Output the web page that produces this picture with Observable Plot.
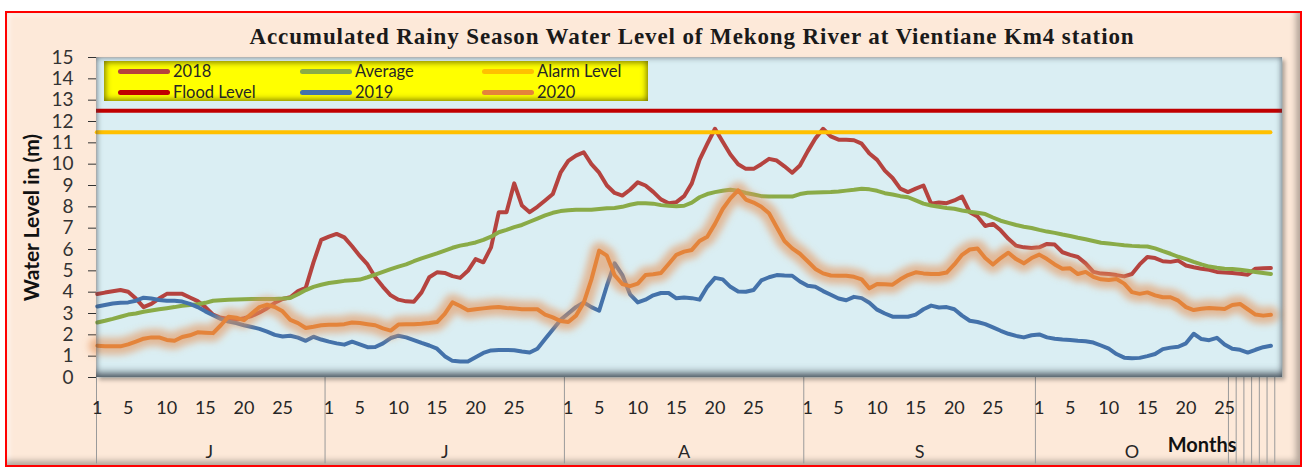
<!DOCTYPE html>
<html><head><meta charset="utf-8">
<script src="https://cdn.jsdelivr.net/npm/d3@7"></script>
<script src="https://cdn.jsdelivr.net/npm/@observablehq/plot@0.6"></script>
<style>
body{margin:0;background:#fff;}
#wrap{position:relative;width:1308px;height:469px;overflow:hidden;}
#frame{position:absolute;left:5px;top:11px;width:1293px;height:452px;background:#FDE9D9;border:2px solid #FF0000;box-shadow:inset -4px -4px 6px rgba(0,0,0,0.30), inset 3px 3px 4px rgba(255,255,255,0.5);}
#title{position:absolute;left:0;top:24px;width:1308px;padding-left:76px;box-sizing:border-box;text-align:center;font:bold 23px "Liberation Serif",serif;letter-spacing:0.9px;color:#1a1a1a;white-space:nowrap;}
#chart{position:absolute;left:0;top:0;}
#shade{position:absolute;left:96px;top:57px;width:1186px;height:320px;pointer-events:none;
  box-shadow:inset 0 0 6px rgba(60,70,80,.75), inset 0 -9px 8px -5px rgba(60,70,80,.8), 3px 3px 4px rgba(0,0,0,.3);}
#legend{position:absolute;left:104px;top:61px;width:544px;height:40px;background:#FFFF00;box-shadow:inset 0 0 6px 1px rgba(90,90,0,0.9);}
.li{position:absolute;height:20px;font:16.5px Lato,sans-serif;color:#262626;line-height:20px;white-space:nowrap;}
.li span.sw{display:inline-block;width:52px;height:5px;border-radius:3px;vertical-align:middle;margin-right:3px;position:relative;top:-1px;}
</style></head>
<body>
<div id="wrap">
  <div id="frame"></div>
  <div id="title"></div>
  <div id="chart"></div>
  <div id="shade"></div>
  <div id="legend"></div>
</div>
<script>
// ---- data (day index 0 = 1 June, 152 = 31 October) ----
const titleText = "Accumulated Rainy Season Water Level of Mekong River at Vientiane Km4 station";
const yTitle = "Water Level in (m)";
const xTitle = "Months";
const monthNames = ["J", "J", "A", "S", "O"];
const monthLengths = [30, 31, 31, 30, 31];
const groupLengths = [30, 31, 31, 30, 25]; // labelled span of each month group
const dayTicks = [1, 5, 10, 15, 20, 25];
const yTicks = [0,1,2,3,4,5,6,7,8,9,10,11,12,13,14,15];
const floodLevel = 12.5;
const alarmLevel = 11.5;

const v2018 = [
3.91,3.98,4.04,4.10,4.02,3.70,3.30,3.45,3.70,3.92,
3.92,3.92,3.75,3.58,3.30,2.95,2.80,2.75,2.70,2.78,
2.88,3.05,3.25,3.50,3.68,3.76,4.05,4.20,5.40,6.45,
6.60,6.73,6.57,6.15,5.70,5.30,4.70,4.25,3.85,3.65,
3.57,3.55,3.99,4.70,4.93,4.90,4.75,4.67,5.00,5.55,
5.40,6.10,7.75,7.75,9.10,8.06,7.75,8.00,8.30,8.60,
9.60,10.15,10.40,10.56,10.00,9.60,9.00,8.65,8.53,8.80,
9.15,9.00,8.70,8.35,8.17,8.22,8.50,9.10,10.20,10.95,
11.66,11.05,10.45,10.00,9.78,9.78,10.00,10.25,10.17,9.90,
9.60,9.94,10.60,11.20,11.66,11.30,11.15,11.15,11.12,10.96,
10.50,10.20,9.70,9.35,8.85,8.69,8.85,9.00,8.14,8.20,
8.17,8.30,8.48,7.75,7.55,7.10,7.20,6.90,6.50,6.18,
6.10,6.07,6.10,6.26,6.23,5.87,5.75,5.65,5.35,4.95,
4.87,4.85,4.80,4.74,4.85,5.30,5.65,5.60,5.45,5.42,
5.48,5.25,5.17,5.10,5.05,4.95,4.92,4.90,4.86,4.82,
5.10,5.12,5.13];

const vAverage = [
2.58,2.66,2.75,2.85,2.95,3.00,3.08,3.14,3.20,3.25,
3.30,3.36,3.40,3.43,3.50,3.60,3.62,3.64,3.66,3.67,
3.68,3.68,3.68,3.68,3.70,3.73,3.90,4.10,4.25,4.35,
4.43,4.48,4.53,4.56,4.59,4.70,4.82,4.95,5.08,5.20,
5.30,5.45,5.58,5.70,5.82,5.95,6.08,6.18,6.25,6.33,
6.45,6.60,6.81,6.92,7.05,7.15,7.30,7.45,7.60,7.72,
7.80,7.84,7.86,7.86,7.86,7.90,7.93,7.95,8.00,8.10,
8.17,8.17,8.15,8.08,8.05,8.03,8.05,8.20,8.45,8.60,
8.69,8.75,8.80,8.75,8.65,8.58,8.50,8.48,8.48,8.48,
8.48,8.60,8.66,8.67,8.68,8.69,8.72,8.76,8.80,8.85,
8.82,8.75,8.64,8.58,8.50,8.45,8.30,8.15,8.06,8.00,
7.95,7.91,7.83,7.77,7.72,7.66,7.50,7.35,7.25,7.15,
7.07,7.01,6.92,6.84,6.78,6.70,6.63,6.55,6.48,6.40,
6.32,6.28,6.24,6.20,6.17,6.15,6.14,6.05,5.92,5.80,
5.66,5.55,5.42,5.30,5.20,5.14,5.10,5.09,5.05,5.00,
4.95,4.90,4.85];

const v2019 = [
3.33,3.40,3.47,3.50,3.52,3.60,3.74,3.70,3.63,3.60,
3.60,3.56,3.45,3.30,3.10,2.92,2.75,2.62,2.55,2.45,
2.37,2.28,2.15,2.00,1.92,1.96,1.87,1.72,1.91,1.78,
1.68,1.60,1.54,1.68,1.55,1.42,1.43,1.60,1.85,1.96,
1.88,1.75,1.62,1.50,1.35,1.00,0.78,0.75,0.75,0.95,
1.15,1.27,1.29,1.29,1.28,1.22,1.17,1.35,1.80,2.25,
2.70,3.00,3.30,3.52,3.30,3.13,4.30,5.35,4.80,3.90,
3.52,3.65,3.85,3.96,3.96,3.71,3.75,3.72,3.65,4.25,
4.67,4.60,4.25,4.03,4.02,4.10,4.55,4.70,4.80,4.78,
4.77,4.50,4.30,4.25,4.05,3.88,3.70,3.62,3.78,3.72,
3.50,3.18,3.00,2.85,2.85,2.85,2.95,3.20,3.37,3.28,
3.30,3.20,2.90,2.66,2.60,2.50,2.35,2.19,2.05,1.95,
1.88,1.98,2.02,1.88,1.82,1.78,1.76,1.72,1.70,1.64,
1.50,1.35,1.10,0.93,0.90,0.92,1.00,1.10,1.33,1.40,
1.44,1.60,2.05,1.80,1.75,1.86,1.55,1.35,1.30,1.17,
1.30,1.42,1.49];

const v2020 = [
1.49,1.47,1.46,1.46,1.55,1.68,1.82,1.88,1.88,1.76,
1.72,1.90,1.98,2.12,2.10,2.08,2.45,2.85,2.80,2.69,
3.00,3.30,3.41,3.30,3.10,2.70,2.55,2.32,2.38,2.45,
2.47,2.47,2.50,2.58,2.55,2.50,2.45,2.30,2.20,2.48,
2.50,2.50,2.52,2.55,2.60,2.98,3.52,3.35,3.15,3.20,
3.24,3.28,3.30,3.26,3.24,3.20,3.20,3.20,2.95,2.82,
2.65,2.60,2.90,3.50,4.60,5.95,5.71,4.80,4.38,4.28,
4.40,4.80,4.84,4.90,5.32,5.75,5.90,5.98,6.40,6.60,
7.20,7.90,8.40,8.77,8.34,8.20,8.00,7.70,7.04,6.40,
6.05,5.80,5.45,5.09,4.88,4.78,4.77,4.77,4.72,4.60,
4.18,4.38,4.37,4.35,4.60,4.80,4.93,4.88,4.85,4.85,
4.92,5.30,5.75,6.00,6.05,5.60,5.30,5.60,5.85,5.55,
5.35,5.60,5.76,5.55,5.30,5.10,5.12,4.85,4.95,4.72,
4.60,4.57,4.62,4.40,4.00,3.92,3.99,3.85,3.76,3.76,
3.60,3.30,3.16,3.22,3.26,3.24,3.21,3.40,3.45,3.20,
2.95,2.90,2.94];

const colors = {
  "2018": "#B5433F", "Average": "#8AAB47", "Alarm Level": "#FFC000",
  "Flood Level": "#C00000", "2019": "#4472AA", "2020": "#E4843B"
};
const legendOrder = ["2018", "Average", "Alarm Level", "Flood Level", "2019", "2020"];

// ---- derived tables ----
const toRows = (arr) => arr.map((v, d) => ({d, v}));
const r2018 = toRows(v2018), rAvg = toRows(vAverage), r2019 = toRows(v2019), r2020 = toRows(v2020);
const nDays = v2018.length;
const xStart = -0.1;

const monthStarts = [];
{ let s = 0; for (const L of monthLengths) { monthStarts.push(s); s += L; } }
const xTickRows = [];
monthStarts.forEach((s) => dayTicks.forEach((t) => xTickRows.push({d: s + t - 1, label: String(t)})));
const monthLabelRows = monthNames.map((m, i) => ({d: monthStarts[i] + (groupLengths[i] - 1) / 2, label: m}));
// group separators: left edge, start of each later month group, plus each single trailing day after the last labelled group
const separators = [xStart, ...monthStarts.slice(1).map((s) => s - 0.5)];
const lastGroupEnd = monthStarts[4] + groupLengths[4];
for (let d = lastGroupEnd; d <= nDays; d++) separators.push(d - 0.5);

document.getElementById("title").textContent = titleText;

const font = "Lato, sans-serif";
const line = (rows, c, extra = {}) => Plot.line(rows, {x: "d", y: "v", stroke: c, strokeWidth: 4, strokeLinejoin: "round", strokeLinecap: "round", ...extra});

const chart = Plot.plot({
  width: 1308, height: 469,
  marginLeft: 96, marginRight: 26, marginTop: 57, marginBottom: 92,
  style: {background: "transparent", fontFamily: font, fontSize: "19px", color: "#333"},
  x: {domain: [xStart, nDays + 0.5], axis: null},
  y: {domain: [0, 15], ticks: yTicks, tickSize: 8, tickPadding: 15, label: null, tickFormat: (d) => String(d)},
  marks: [
    Plot.frame({fill: "#DAEEF3", stroke: "none"}),
    Plot.ruleX(separators, {x: (d) => d, y1: 0, y2: -4.05, stroke: "#9a9a9a", strokeWidth: 1}),
    line(r2018, colors["2018"]),
    line(rAvg, colors["Average"]),
    Plot.ruleY([alarmLevel], {y: (d) => d, x1: 0, x2: nDays - 1, stroke: colors["Alarm Level"], strokeWidth: 4, strokeLinecap: "round"}),
    Plot.ruleY([floodLevel], {y: (d) => d, stroke: colors["Flood Level"], strokeWidth: 4}),
    line(r2019, colors["2019"]),
    line(r2020, "#E6945A", {strokeWidth: 17, strokeOpacity: 0.6}),
    line(r2020, colors["2020"]),
    Plot.text(xTickRows, {x: "d", text: "label", frameAnchor: "bottom", dy: 36, fontSize: 18, fill: "#262626"}),
    Plot.text(monthLabelRows, {x: "d", text: "label", frameAnchor: "bottom", dy: 80, fontSize: 18, fill: "#262626"}),
    Plot.text([xTitle], {text: (d) => d, frameAnchor: "bottom-right", dx: -46, dy: 74, textAnchor: "end", fontSize: 20, fontWeight: "bold", fill: "#111"}),
    Plot.text([yTitle], {text: (d) => d, frameAnchor: "left", dx: -64, rotate: -90, textAnchor: "middle", fontSize: 21, fontWeight: "bold", fill: "#111"})
  ]
});
document.getElementById("chart").appendChild(chart);

// soft glow for the 2020 series
{
  const svg = d3.select(chart);
  const defs = svg.insert("defs", ":first-child");
  defs.append("filter").attr("id", "glow2020").attr("x", "-5%").attr("y", "-20%").attr("width", "110%").attr("height", "140%")
    .append("feGaussianBlur").attr("stdDeviation", 3.5);
  svg.selectAll("g[stroke-width='17']").attr("filter", "url(#glow2020)");
}

// legend
const leg = document.getElementById("legend");
const colX = [14, 196, 378];
legendOrder.forEach((k, i) => {
  const el = document.createElement("div");
  el.className = "li";
  el.style.left = colX[i % 3] + "px";
  el.style.top = (i < 3 ? 0 : 21) + "px";
  const sw = document.createElement("span");
  sw.className = "sw"; sw.style.background = colors[k];
  el.appendChild(sw);
  el.appendChild(document.createTextNode(k));
  leg.appendChild(el);
});
</script>
</body></html>
